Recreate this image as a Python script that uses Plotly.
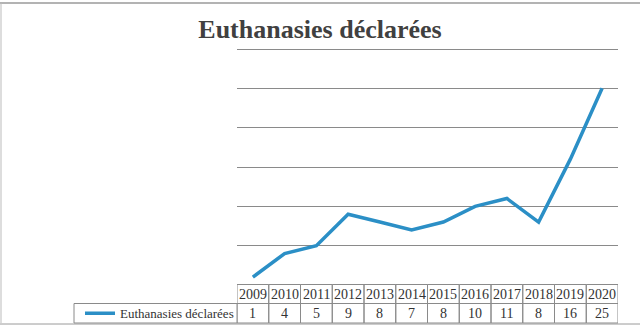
import plotly.graph_objects as go

years = ["2009", "2010", "2011", "2012", "2013", "2014", "2015", "2016", "2017", "2018", "2019", "2020"]
values = [1, 4, 5, 9, 8, 7, 8, 10, 11, 8, 16, 25]
series_name = "Euthanasies déclarées"
title_text = "Euthanasies déclarées"

W, H = 640, 331
plot_left, plot_right, plot_top, plot_bottom = 237, 618, 45, 285
y_max = 30 + (49 - plot_top) * 30 / (plot_bottom - 49)  # so that the 30 gridline sits at px 49

def py(pix):
    # pixel row -> paper y (paper == whole canvas)
    return (H - pix) / H

def px(pix):
    return pix / W

line_color = "#2b8fc6"
grid_color = "#8a8a8a"
text_color = "#333333"
serif = "Liberation Serif, DejaVu Serif, serif"

fig = go.Figure()
fig.add_trace(go.Scatter(
    x=years, y=values, mode="lines", name=series_name,
    line=dict(color=line_color, width=3.5),
    showlegend=True,
))

shapes = []
annotations = []
hdr_top, hdr_bot, row_bot = py(284.5), py(303.5), py(323)
for i, (yr, v) in enumerate(zip(years, values)):
    shapes.append(dict(type="rect", xref="x", yref="paper", x0=i - 0.5, x1=i + 0.5,
                       y0=hdr_bot, y1=hdr_top, line=dict(color=grid_color, width=1)))
    shapes.append(dict(type="rect", xref="x", yref="paper", x0=i - 0.5, x1=i + 0.5,
                       y0=row_bot, y1=hdr_bot, line=dict(color=grid_color, width=1)))
    annotations.append(dict(x=i, y=(hdr_top + hdr_bot) / 2, xref="x", yref="paper",
                            xanchor="center", yanchor="middle",
                            text=yr, showarrow=False,
                            font=dict(family=serif, size=14, color=text_color)))
    annotations.append(dict(x=i, y=(hdr_bot + row_bot) / 2, xref="x", yref="paper",
                            xanchor="center", yanchor="middle",
                            text=str(v), showarrow=False,
                            font=dict(family=serif, size=14, color=text_color)))

# legend cell border
shapes.append(dict(type="rect", xref="paper", yref="paper", x0=px(74), x1=px(plot_left),
                   y0=row_bot, y1=hdr_bot, line=dict(color=grid_color, width=1)))
# page frame lines (scan borders)
shapes.append(dict(type="line", xref="paper", yref="paper", x0=0, x1=1,
                   y0=py(3), y1=py(3), line=dict(color="#9a9a9a", width=1.5)))
shapes.append(dict(type="line", xref="paper", yref="paper", x0=px(1), x1=px(1),
                   y0=py(3), y1=py(323), line=dict(color="#bbbbbb", width=1)))
shapes.append(dict(type="line", xref="paper", yref="paper", x0=0, x1=1,
                   y0=py(324), y1=py(324), line=dict(color="#9a9a9a", width=1)))

fig.update_layout(
    width=W, height=H,
    margin=dict(l=0, r=0, t=0, b=0),
    paper_bgcolor="white", plot_bgcolor="white",
    title=dict(text="<b>" + title_text + "</b>", x=0.5, xanchor="center", xref="container",
               y=py(29), yanchor="middle", yref="container",
               font=dict(family=serif, size=26, color="#404040")),
    xaxis=dict(type="category", range=[-0.5, len(years) - 0.5], showticklabels=False,
               domain=[px(plot_left), px(plot_right)],
               showgrid=False, zeroline=False, showline=False, ticks=""),
    yaxis=dict(range=[0, y_max], tickvals=[5, 10, 15, 20, 25, 30], showticklabels=False,
               showgrid=True, domain=[py(plot_bottom), py(plot_top)],
               gridcolor=grid_color, gridwidth=1, zeroline=False, showline=False, ticks=""),
    showlegend=True,
    legend=dict(x=px(80), y=(hdr_bot + row_bot) / 2, xanchor="left", yanchor="middle",
                xref="paper", yref="paper", bgcolor="rgba(0,0,0,0)",
                font=dict(family=serif, size=13, color=text_color),
                tracegroupgap=0),
    shapes=shapes,
    annotations=annotations,
)

fig.write_html("out.html")
